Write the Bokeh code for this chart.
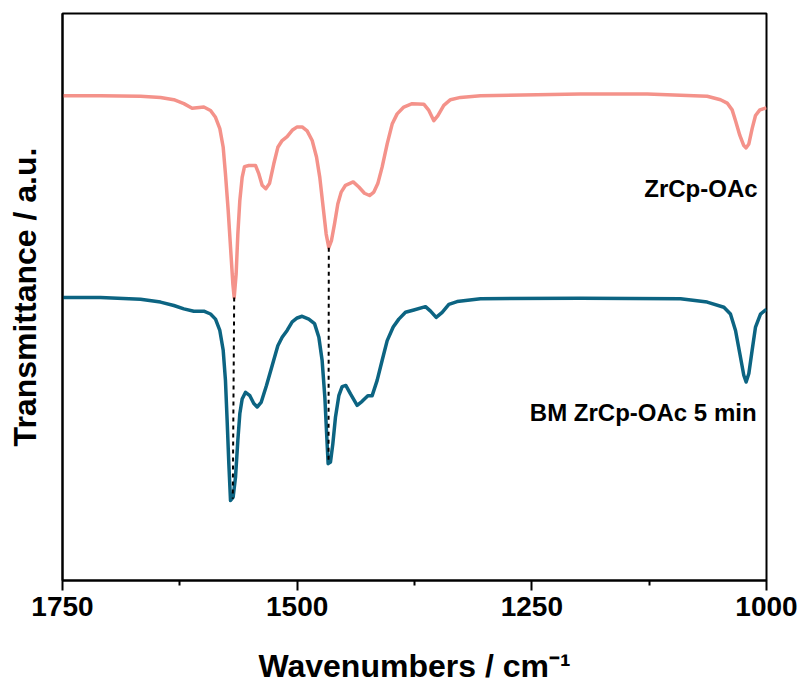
from bokeh.plotting import figure
from bokeh.models import Range1d, FixedTicker, Label
from bokeh.embed import file_html
from bokeh.resources import INLINE

# ---- data ----
pink_wn = [1750.0, 1709.5, 1666.9, 1645.6, 1631.4, 1620.7, 1611.9, 1599.4, 1592.3, 1587.0,
           1582.4, 1578.8, 1576.4, 1573.5, 1571.0, 1568.5, 1567.1, 1565.0, 1563.2, 1561.1,
           1558.6, 1556.1, 1551.5, 1544.4, 1540.8, 1537.3, 1533.4, 1529.5, 1524.9, 1520.6,
           1516.0, 1510.7, 1505.3, 1500.0, 1494.7, 1489.4, 1484.0, 1479.4, 1475.9, 1472.3,
           1469.1, 1466.3, 1463.4, 1460.2, 1456.7, 1453.1, 1448.5, 1440.3, 1434.3, 1428.3,
           1422.9, 1418.3, 1414.1, 1409.5, 1404.1, 1398.8, 1393.5, 1386.4, 1377.5, 1365.1,
           1359.7, 1354.4, 1350.1, 1343.8, 1336.7, 1326.0, 1304.7, 1198.2, 1127.1, 1063.2,
           1049.0, 1041.9, 1036.6, 1033.0, 1028.4, 1024.2, 1021.7, 1018.8, 1015.3, 1011.7,
           1007.1, 1001.1, 1000.0]
pink_t = [85.5, 85.5, 85.4, 85.2, 84.8, 84.1, 83.3, 83.5, 82.9, 81.7,
          79.7, 76.4, 71.7, 65.3, 58.8, 52.3, 49.9, 54.1, 61.1, 67.0,
          71.1, 73.0, 73.2, 73.2, 71.7, 69.7, 69.1, 70.0, 73.5, 76.4,
          77.6, 78.3, 79.4, 80.0, 80.0, 79.3, 77.6, 74.7, 71.1, 65.8,
          61.1, 58.7, 60.0, 62.9, 66.4, 68.5, 69.7, 70.3, 69.4, 68.3,
          67.9, 68.5, 70.0, 72.9, 77.0, 80.5, 82.3, 83.5, 84.1, 84.0,
          82.9, 81.1, 82.0, 83.8, 84.8, 85.2, 85.5, 85.8, 85.8, 85.4,
          84.8, 84.2, 83.0, 81.1, 78.5, 76.7, 76.3, 77.0, 79.7, 82.0,
          83.0, 83.3, 83.4]

teal_wn = [1750.0, 1709.5, 1666.9, 1645.6, 1631.4, 1620.7, 1610.1, 1599.4, 1592.3, 1587.0,
           1582.4, 1578.8, 1576.4, 1574.6, 1572.8, 1571.0, 1568.2, 1565.7, 1563.2, 1561.1,
           1558.6, 1555.0, 1550.4, 1546.2, 1542.6, 1538.4, 1532.7, 1526.6, 1520.6, 1516.0,
           1510.7, 1505.3, 1500.0, 1494.7, 1487.6, 1481.5, 1476.9, 1473.4, 1470.5, 1468.8,
           1467.0, 1464.5, 1462.0, 1459.2, 1455.6, 1452.1, 1448.2, 1443.2, 1436.1, 1430.8,
           1424.7, 1420.1, 1414.8, 1409.5, 1404.1, 1397.7, 1391.7, 1384.6, 1375.7, 1363.3,
           1357.9, 1351.9, 1345.5, 1338.4, 1329.6, 1304.7, 1198.2, 1091.6, 1063.2, 1045.4,
           1038.4, 1033.0, 1028.4, 1024.2, 1021.7, 1018.8, 1015.3, 1011.7, 1006.4, 1001.1,
           1000.0]
teal_t = [49.9, 49.9, 49.6, 49.1, 48.5, 47.9, 47.5, 47.5, 47.0, 46.1,
          44.1, 40.6, 35.3, 28.2, 20.6, 14.1, 14.7, 18.2, 24.7, 29.4,
          32.0, 33.2, 32.6, 31.2, 30.6, 31.4, 34.4, 37.9, 41.4, 42.9,
          44.1, 45.6, 46.3, 46.6, 46.1, 45.3, 42.9, 38.8, 32.3, 26.5,
          20.6, 20.9, 24.1, 28.8, 32.6, 34.2, 34.4, 32.9, 30.9, 31.6,
          32.6, 32.6, 35.3, 38.8, 42.3, 44.7, 46.1, 47.3, 47.7, 48.3,
          47.5, 46.4, 47.3, 48.7, 49.2, 49.7, 49.8, 49.7, 49.1, 48.2,
          47.0, 44.1, 40.0, 36.2, 35.0, 36.5, 40.6, 44.7, 47.0, 47.7,
          47.8]

# guide lines joining matching peaks
guide_wn_top = [1567.1, 1466.3]
guide_t_top = [49.9, 58.7]
guide_wn_bottom = [1568.6, 1466.6]
guide_t_bottom = [14.4, 20.6]

labels = ["ZrCp-OAc", "BM ZrCp-OAc 5 min"]
label_wn = [1009.5, 1010.6]
label_t = [69.2, 29.6]

x_ticks = [1750, 1500, 1250, 1000]
x_minor = [1625, 1375, 1125]

PINK = "#F4928A"
TEAL = "#0C6482"
FONT = "Liberation Sans"

p = figure(width=801, height=688, output_backend="svg", toolbar_location=None,
           x_range=Range1d(1750, 1000), y_range=Range1d(0, 100),
           min_border_left=62, min_border_right=35, min_border_top=13, min_border_bottom=108)
p.background_fill_color = "white"
p.border_fill_color = "white"
p.grid.visible = False
p.outline_line_color = "black"
p.outline_line_width = 2

p.line(pink_wn, pink_t, line_color=PINK, line_width=3.5, line_join="round")
p.line(teal_wn, teal_t, line_color=TEAL, line_width=3.5, line_join="round")

for i in range(len(guide_wn_top)):
    p.line([guide_wn_top[i], guide_wn_bottom[i]], [guide_t_top[i], guide_t_bottom[i]],
           line_color="black", line_width=2, line_dash="4 4")

for txt, x, y in zip(labels, label_wn, label_t):
    p.add_layout(Label(x=x, y=y, text=txt, text_align="right", text_baseline="middle",
                       text_font=FONT, text_font_style="bold", text_font_size="24px",
                       text_color="black"))

xa = p.xaxis[0]
xa.ticker = FixedTicker(ticks=x_ticks, minor_ticks=x_minor)
xa.axis_label = "Wavenumbers / cm\u207b\u00b9"
xa.axis_label_text_font = FONT
xa.axis_label_text_font_style = "bold"
xa.axis_label_text_font_size = "32px"
xa.axis_label_text_color = "black"
xa.axis_label_standoff = 29
xa.major_label_text_font = FONT
xa.major_label_text_font_style = "bold"
xa.major_label_text_font_size = "28px"
xa.major_label_text_color = "black"
xa.major_label_standoff = 6
xa.axis_line_width = 2
xa.axis_line_color = "black"
xa.major_tick_in = 0
xa.major_tick_out = 10
xa.minor_tick_in = 0
xa.minor_tick_out = 5
xa.major_tick_line_width = 2
xa.minor_tick_line_width = 2
xa.major_tick_line_color = "black"
xa.minor_tick_line_color = "black"

ya = p.yaxis[0]
ya.ticker = FixedTicker(ticks=[])
ya.axis_label = "Transmittance / a.u."
ya.axis_label_text_font = FONT
ya.axis_label_text_font_style = "bold"
ya.axis_label_text_font_size = "32px"
ya.axis_label_text_color = "black"
ya.axis_label_standoff = 20
ya.axis_line_width = 2
ya.axis_line_color = "black"
ya.major_tick_in = 0
ya.major_tick_out = 0
ya.minor_tick_in = 0
ya.minor_tick_out = 0

open("out.html", "w").write(file_html(p, INLINE))
